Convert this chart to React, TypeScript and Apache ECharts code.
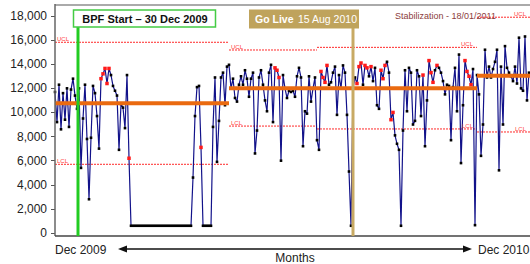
import React, { useEffect, useRef } from "react";
import * as echarts from "echarts";

// Daily values (≈ 2 px per point), Dec 2009 → Dec 2010
const values: number[] = [
  11700, 9200, 12300, 8600, 11600, 9400, 12000, 8800, 11900, 12800,
  11400, 10300, 12000, 5400, 9500, 12300, 7800, 2800, 7900, 12200,
  11600, 9700, 7000, 12800, 13200, 13650, 12400, 13650, 13100, 12200,
  11800, 11400, 6900, 10700, 10400, 8700, 13100, 6200, 600, 600,
  600, 600, 600, 600, 600, 600, 600, 600, 600, 600,
  600, 600, 600, 600, 600, 600, 600, 600, 600, 600,
  600, 600, 600, 600, 600, 600, 600, 600, 600, 4600,
  9700, 12100, 12200, 7100, 600, 600, 600, 600, 600, 8800,
  12900, 5900, 9300, 12900, 13300, 10600, 13800, 13950, 12000, 12800,
  11200, 10900, 12300, 13000, 12300, 13500, 12800, 11300, 12800, 13300,
  6600, 8500, 12900, 13500, 12300, 11000, 10100, 13300, 13950, 9200,
  13700, 13500, 12900, 6000, 13100, 12000, 11200, 11800, 11700, 11800,
  11300, 13000, 13700, 12900, 7200, 10100, 9900, 13000, 10900, 12000,
  12900, 7700, 6900, 13400, 12900, 12500, 13900, 12300, 12500, 13300,
  13800, 9800, 13100, 12000, 13900, 13300, 9800, 5100, 600, 12000,
  12900, 12400, 13800, 14100, 12300, 13900, 13700, 13000, 13800, 12600,
  13700, 10600, 10300, 13500, 12800, 13900, 14200, 13300, 9400, 10000,
  8100, 7400, 6900, 600, 8500, 13500, 10100, 13700, 13300, 9000,
  9300, 13500, 13000, 9700, 13100, 7200, 11000, 14300, 13300, 12500,
  13500, 13900, 13700, 13300, 12600, 11500, 12300, 12200, 7700, 12100,
  13700, 10100, 14800, 5800, 10600, 14300, 13400, 13000, 12300, 13600,
  650, 13100, 11500, 6400, 9000, 15200, 12900, 13800, 12900, 13600,
  14200, 15200, 5200, 13800, 9000, 15500, 13700, 13300, 13000, 12600,
  13800, 12400, 16200, 12000, 11800, 16300, 11000, 13300,
];

// Points flagged as out-of-control (red markers)
const redIdx: number[] = [
  23, 24, 25, 26, 27, 37, 73, 110, 111, 112, 133, 134, 135, 136, 151, 152,
  153, 155, 156, 158, 163, 164, 165, 168, 169, 184, 187, 188, 189, 191, 205,
  206, 207, 208,
];

// Control limit segments
const limitStart: number[] = [0, 87, 131, 211];
const limitEnd: number[] = [87, 131, 211, 237.5];
const ucl: number[] = [15820, 15180, 15400, 17900];
const lcl: number[] = [5700, 8870, 8630, 8380];
const labelAtEnd: boolean[] = [false, false, true, true];

// Mean (centre) line segments
const meanStart: number[] = [0, 87, 211];
const meanEnd: number[] = [87, 211, 237.5];
const means: number[] = [10760, 12000, 13050];

// Events
const bpfIdx = 11.5;
const goLiveIdx = 149;
const xMax = 237.5;

const FONT = "Liberation Sans, Arial, sans-serif";

export default function App() {
  const ref = useRef<HTMLDivElement>(null);

  useEffect(() => {
    if (!ref.current) return;
    const chart = echarts.init(ref.current, null, { renderer: "svg" });

    const redSet = new Set(redIdx);
    const mainData = values.map((v, i) =>
      redSet.has(i)
        ? { value: [i, v], itemStyle: { color: "#ff1a1a" }, symbolSize: 3.5 }
        : { value: [i, v] }
    );

    const series: any[] = [];
    limitStart.forEach((s, k) => {
      [ucl[k], lcl[k]].forEach((lv) => {
        series.push({
          type: "line",
          data: [
            [s, lv],
            [limitEnd[k], lv],
          ],
          symbol: "none",
          lineStyle: { color: "#ff2a2a", width: 1, type: [2, 1] },
          z: 1,
          silent: true,
        });
      });
    });
    series.push({
      type: "line",
      data: mainData,
      symbol: "rect",
      symbolSize: 2.6,
      itemStyle: { color: "#000" },
      lineStyle: { color: "#12128a", width: 1.2 },
      z: 2,
    });
    meanStart.forEach((s, k) => {
      series.push({
        type: "line",
        data: [
          [s, means[k]],
          [meanEnd[k], means[k]],
        ],
        symbol: "none",
        lineStyle: { color: "#ea6a10", width: 4 },
        z: 3,
        silent: true,
      });
    });

    chart.setOption({
      animation: false,
      backgroundColor: "#fff",
      grid: { left: 55, right: 0, top: 16, bottom: 31, containLabel: false },
      xAxis: {
        type: "value",
        min: 0,
        max: xMax,
        show: false,
      },
      yAxis: {
        type: "value",
        min: 0,
        max: 18000,
        interval: 2000,
        axisLine: { show: false },
        axisTick: { show: true, length: 4, lineStyle: { color: "#555" } },
        splitLine: { show: false },
        axisLabel: {
          margin: 8,
          fontSize: 12,
          fontFamily: FONT,
          color: "#222",
          formatter: (v: number) => v.toLocaleString("en-US"),
        },
      },
      series,
    });

    const px = (i: number, v: number) =>
      chart.convertToPixel({ gridIndex: 0 }, [i, v]) as number[];

    const bpfX = px(bpfIdx, 0)[0];
    const goX = px(goLiveIdx, 0)[0];

    const g: any[] = [
      // frame
      { type: "line", shape: { x1: 55, y1: 5, x2: 530, y2: 5 }, style: { stroke: "#aaa", lineWidth: 2 }, z: 5 },
      { type: "line", shape: { x1: 55, y1: 4, x2: 55, y2: 236 }, style: { stroke: "#666", lineWidth: 1.5 }, z: 5 },
      { type: "line", shape: { x1: 55, y1: 236, x2: 530, y2: 236 }, style: { stroke: "#444", lineWidth: 1.5 }, z: 5 },
    ];

    // UCL / LCL small labels
    limitStart.forEach((s, k) => {
      [
        ["UCL", ucl[k]],
        ["LCL", lcl[k]],
      ].forEach(([t, lv]) => {
        const atEnd = labelAtEnd[k];
        const p = px(atEnd ? limitEnd[k] : s, lv as number);
        g.push({
          type: "text",
          x: atEnd ? p[0] - 4 : p[0] + 2,
          y: p[1] - 3,
          z: 6,
          style: {
            text: t,
            fill: "#ff4040",
            fontSize: 6,
            fontFamily: FONT,
            align: atEnd ? "right" : "left",
            textAlign: atEnd ? "right" : "left",
            verticalAlign: "middle",
            textVerticalAlign: "middle",
          },
        });
      });
    });

    // BPF start marker
    g.push(
      { type: "line", shape: { x1: bpfX, y1: 27, x2: bpfX, y2: 236 }, style: { stroke: "#22cc22", lineWidth: 3 }, z: 10 },
      { type: "rect", shape: { x: 73.5, y: 10, width: 142, height: 17 }, style: { fill: "#fff", stroke: "#44cc44", lineWidth: 1.5 }, z: 11 },
      {
        type: "text", x: 145, y: 18.5, z: 12,
        style: { text: "BPF Start – 30 Dec 2009", fill: "#111", fontSize: 11, fontWeight: "bold", fontFamily: FONT, align: "center", textAlign: "center", verticalAlign: "middle", textVerticalAlign: "middle" },
      }
    );

    // Go Live marker
    g.push(
      { type: "line", shape: { x1: goX, y1: 28, x2: goX, y2: 236 }, style: { stroke: "#c8aa64", lineWidth: 3 }, z: 10 },
      { type: "rect", shape: { x: 249, y: 9.5, width: 110, height: 19 }, style: { fill: "#bfa35c" }, z: 11 },
      {
        type: "text", x: 255, y: 19, z: 12,
        style: { text: "Go Live", fill: "#fff", fontSize: 10.5, fontWeight: "bold", fontFamily: FONT, align: "left", textAlign: "left", verticalAlign: "middle", textVerticalAlign: "middle" },
      },
      {
        type: "text", x: 298, y: 19, z: 12,
        style: { text: "15 Aug 2010", fill: "#fff", fontSize: 10.5, fontFamily: FONT, align: "left", textAlign: "left", verticalAlign: "middle", textVerticalAlign: "middle" },
      }
    );

    // Stabilization note
    g.push({
      type: "text", x: 395, y: 16, z: 6,
      style: { text: "Stabilization - 18/01/2011", fill: "#8b3c3c", fontSize: 9, fontFamily: FONT, align: "left", textAlign: "left", verticalAlign: "middle", textVerticalAlign: "middle" },
    });

    // bottom labels and arrow
    g.push(
      { type: "text", x: 55, y: 249.5, style: { text: "Dec 2009", fill: "#222", fontSize: 12, fontFamily: FONT, align: "left", textAlign: "left", verticalAlign: "middle", textVerticalAlign: "middle" } },
      { type: "text", x: 478, y: 249.5, style: { text: "Dec 2010", fill: "#222", fontSize: 12, fontFamily: FONT, align: "left", textAlign: "left", verticalAlign: "middle", textVerticalAlign: "middle" } },
      { type: "text", x: 295, y: 258, style: { text: "Months", fill: "#222", fontSize: 12, fontFamily: FONT, align: "center", textAlign: "center", verticalAlign: "middle", textVerticalAlign: "middle" } },
      { type: "line", shape: { x1: 124, y1: 249, x2: 466, y2: 249 }, style: { stroke: "#111", lineWidth: 1.3 } },
      { type: "polygon", shape: { points: [[118, 249], [127, 245.5], [127, 252.5]] }, style: { fill: "#111" } },
      { type: "polygon", shape: { points: [[472, 249], [463, 245.5], [463, 252.5]] }, style: { fill: "#111" } }
    );

    chart.setOption({ graphic: g });

    return () => chart.dispose();
  }, []);

  return (
    <div
      ref={ref}
      style={{ position: "fixed", left: 0, top: 0, width: 530, height: 264, background: "#fff" }}
    />
  );
}
